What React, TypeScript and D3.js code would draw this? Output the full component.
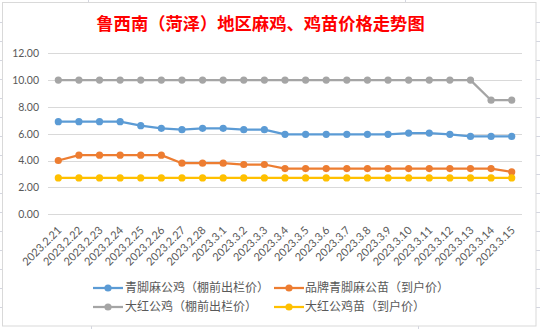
import React from "react";
import * as d3 from "d3";

const categories = [
  "2023.2.21", "2023.2.22", "2023.2.23", "2023.2.24", "2023.2.25", "2023.2.26",
  "2023.2.27", "2023.2.28", "2023.3.1", "2023.3.2", "2023.3.3", "2023.3.4",
  "2023.3.5", "2023.3.6", "2023.3.7", "2023.3.8", "2023.3.9", "2023.3.10",
  "2023.3.11", "2023.3.12", "2023.3.13", "2023.3.14", "2023.3.15",
];

const qingjiaoRooster = [6.9, 6.9, 6.9, 6.9, 6.6, 6.4, 6.3, 6.4, 6.4, 6.3, 6.3, 5.95, 5.95, 5.95, 5.95, 5.95, 5.95, 6.05, 6.05, 5.95, 5.8, 5.8, 5.8];
const brandChick = [4.0, 4.4, 4.4, 4.4, 4.4, 4.4, 3.8, 3.8, 3.8, 3.7, 3.7, 3.4, 3.4, 3.4, 3.4, 3.4, 3.4, 3.4, 3.4, 3.4, 3.4, 3.4, 3.15];
const redRooster = [10, 10, 10, 10, 10, 10, 10, 10, 10, 10, 10, 10, 10, 10, 10, 10, 10, 10, 10, 10, 10, 8.5, 8.5];
const redChick = [2.7, 2.7, 2.7, 2.7, 2.7, 2.7, 2.7, 2.7, 2.7, 2.7, 2.7, 2.7, 2.7, 2.7, 2.7, 2.7, 2.7, 2.7, 2.7, 2.7, 2.7, 2.7, 2.7];

const seriesNames = ["青脚麻公鸡（棚前出栏价）", "品牌青脚麻公苗（到户价）", "大红公鸡（棚前出栏价）", "大红公鸡苗（到户价）"];
const seriesColors = ["#5B9BD5", "#ED7D31", "#A5A5A5", "#FFC000"];
const yTicks = [0, 2, 4, 6, 8, 10, 12];
const title = "鲁西南（菏泽）地区麻鸡、鸡苗价格走势图";

export default function App() {
  const W = 540, H = 329;
  const x = d3.scaleBand<string>().domain(categories).range([48, 522]);
  const y = d3.scaleLinear().domain([0, 12]).range([214.1, 53.3]);
  const cx = (c: string) => (x(c) as number) + x.bandwidth() / 2;
  const allSeries = [qingjiaoRooster, brandChick, redRooster, redChick];
  const line = d3.line<number>().x((_, i) => cx(categories[i])).y((d) => y(d));
  // draw order: yellow first? Excel draws series in order
  const order = [0, 1, 2, 3];
  const rows = d3.range(16).map((k) => 22 + 19 * k);
  const legendPos = [
    { lx: 93, tx: 125, ly: 288 },
    { lx: 274, tx: 305, ly: 288 },
    { lx: 93, tx: 125, ly: 307 },
    { lx: 274, tx: 305, ly: 307 },
  ];
  return (
    <svg width={W} height={H} style={{ position: "absolute", left: 0, top: 0, background: "#fff" }}>
      {/* spreadsheet cell marks outside chart */}
      {rows.map((r) => (
        <g key={r}>
          <line x1={0} x2={2.5} y1={r + 0.5} y2={r + 0.5} stroke="#D4D6E0" />
          <line x1={536} x2={540} y1={r + 0.5} y2={r + 0.5} stroke="#D4D6E0" />
        </g>
      ))}
      <line x1={88.5} x2={88.5} y1={0} y2={2} stroke="#D4D6E0" />
      <line x1={405.5} x2={405.5} y1={0} y2={2} stroke="#D4D6E0" />
      <line x1={91.5} x2={91.5} y1={326} y2={329} stroke="#D4D6E0" />
      <line x1={418.5} x2={418.5} y1={326} y2={329} stroke="#D4D6E0" />
      {/* chart frame */}
      <rect x={2.5} y={2.5} width={533.5} height={323.5} fill="#fff" stroke="#D9D9D9" />
      <text x={260.5} y={30} textAnchor="middle" fill="#FF0000" fontSize={17.3} fontWeight={700}
        fontFamily="'Noto Sans CJK SC', sans-serif">{title}</text>
      {yTicks.map((t) => (
        <g key={t}>
          <line x1={48} x2={522} y1={Math.round(y(t)) + 0.5} y2={Math.round(y(t)) + 0.5} stroke="#D9D9D9" />
          <text x={39} y={y(t) + 3.8} textAnchor="end" fontSize={10.5} fill="#595959"
            fontFamily="Lato, 'Open Sans', sans-serif">{t.toFixed(2)}</text>
        </g>
      ))}
      {categories.map((c) => (
        <text key={c} transform={`translate(${cx(c) + 4},${231}) rotate(-45)`} textAnchor="end"
          fontSize={11} fill="#595959" fontFamily="Lato, 'Open Sans', sans-serif">{c}</text>
      ))}
      {order.map((si) => (
        <g key={si}>
          <path d={line(allSeries[si]) || ""} fill="none" stroke={seriesColors[si]} strokeWidth={2.25} strokeLinejoin="round" />
          {allSeries[si].map((v, i) => (
            <circle key={i} cx={cx(categories[i])} cy={y(v)} r={3.6} fill={seriesColors[si]} />
          ))}
        </g>
      ))}
      {seriesNames.map((n, i) => {
        const p = legendPos[i];
        return (
          <g key={n}>
            <line x1={p.lx} x2={p.lx + 30} y1={p.ly} y2={p.ly} stroke={seriesColors[i]} strokeWidth={2.25} />
            <circle cx={p.lx + 15} cy={p.ly} r={3.6} fill={seriesColors[i]} />
            <text x={p.tx} y={p.ly + 4.3} fontSize={12} fill="#595959"
              fontFamily="'Noto Sans CJK SC', sans-serif">{n}</text>
          </g>
        );
      })}
    </svg>
  );
}
